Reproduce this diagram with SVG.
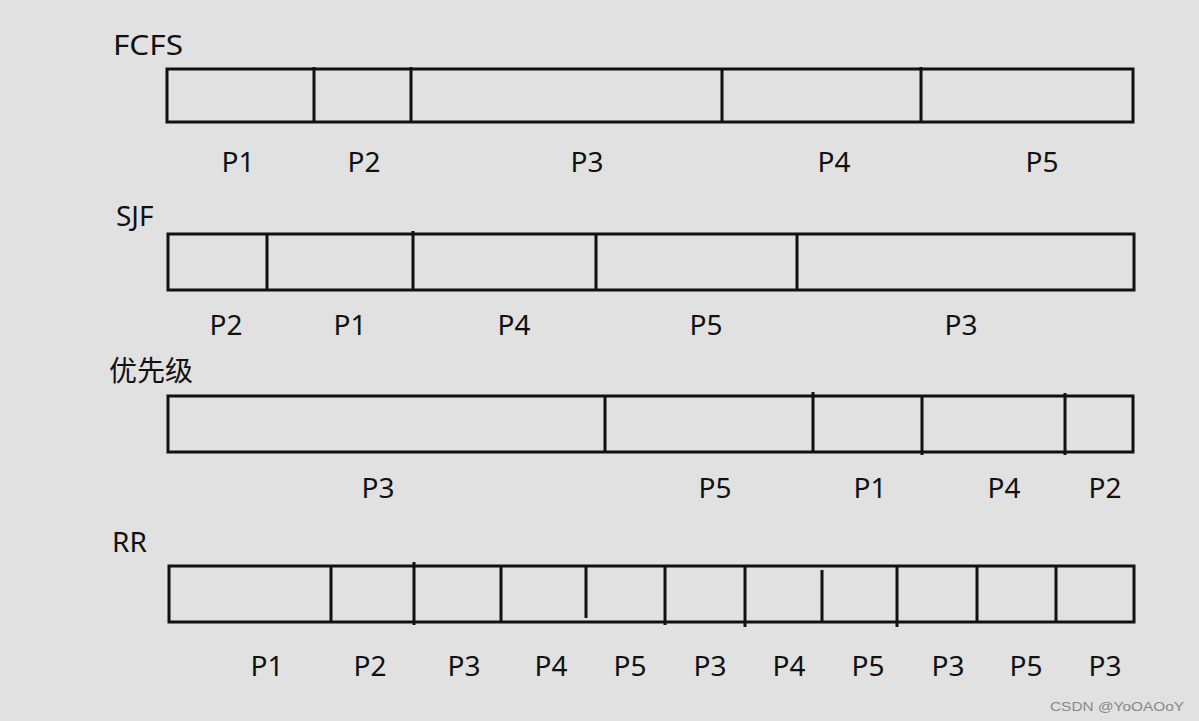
<svg xmlns="http://www.w3.org/2000/svg" width="1199" height="721" viewBox="0 0 1199 721">
<style>
.bar{fill:none;stroke:#111;stroke-width:3}
.div{stroke:#111;stroke-width:3}
.t{font-family:"Noto Sans","Liberation Sans",sans-serif;font-size:28px;fill:#111;text-anchor:middle}
.h{font-family:"Noto Sans","Liberation Sans","Noto Sans CJK SC",sans-serif;font-size:28px;fill:#111}
.w{font-family:"Liberation Sans",sans-serif;font-size:13px;fill:#888}
</style>
<rect width="1199" height="721" fill="#e1e1e1"/>
<g id="fcfs">
<text class="h" x="113" y="55" textLength="70" lengthAdjust="spacingAndGlyphs">FCFS</text>
<rect class="bar" x="167" y="69" width="966" height="53"/>
<g class="divs"><line class="div" x1="314" y1="67" x2="314" y2="122"/><line class="div" x1="411" y1="67" x2="411" y2="122"/><line class="div" x1="722" y1="69" x2="722" y2="122"/><line class="div" x1="921" y1="67" x2="921" y2="122"/></g>
<text class="t" x="238" y="172">P1</text><text class="t" x="364" y="172">P2</text><text class="t" x="587" y="172">P3</text><text class="t" x="834" y="172">P4</text><text class="t" x="1042" y="172">P5</text>
</g>
<g id="sjf">
<text class="h" x="116" y="226">SJF</text>
<rect class="bar" x="168" y="234" width="966" height="56"/>
<line class="div" x1="267" y1="234" x2="267" y2="290"/><line class="div" x1="413" y1="231" x2="413" y2="290"/><line class="div" x1="596" y1="234" x2="596" y2="290"/><line class="div" x1="797" y1="234" x2="797" y2="290"/>
<text class="t" x="226" y="335">P2</text><text class="t" x="350" y="335">P1</text><text class="t" x="514" y="335">P4</text><text class="t" x="706" y="335">P5</text><text class="t" x="961" y="335">P3</text>
</g>
<g id="priority">
<text class="h" x="109" y="381">优先级</text>
<rect class="bar" x="168" y="396" width="965" height="56"/>
<line class="div" x1="605" y1="396" x2="605" y2="452"/><line class="div" x1="813" y1="392" x2="813" y2="452"/><line class="div" x1="922" y1="396" x2="922" y2="455"/><line class="div" x1="1065" y1="393" x2="1065" y2="455"/>
<text class="t" x="378" y="498">P3</text><text class="t" x="715" y="498">P5</text><text class="t" x="870" y="498">P1</text><text class="t" x="1004" y="498">P4</text><text class="t" x="1105" y="498">P2</text>
</g>
<g id="rr">
<text class="h" x="112" y="552">RR</text>
<rect class="bar" x="169" y="566" width="965" height="56"/>
<line class="div" x1="331" y1="566" x2="331" y2="622"/><line class="div" x1="414" y1="562" x2="414" y2="625"/><line class="div" x1="501" y1="566" x2="501" y2="622"/><line class="div" x1="586" y1="566" x2="586" y2="618"/><line class="div" x1="665" y1="566" x2="665" y2="625"/><line class="div" x1="745" y1="566" x2="745" y2="627"/><line class="div" x1="822" y1="570" x2="822" y2="622"/><line class="div" x1="897" y1="566" x2="897" y2="627"/><line class="div" x1="977" y1="566" x2="977" y2="623"/><line class="div" x1="1056" y1="566" x2="1056" y2="623"/>
<text class="t" x="267" y="676">P1</text><text class="t" x="370" y="676">P2</text><text class="t" x="464" y="676">P3</text><text class="t" x="551" y="676">P4</text><text class="t" x="630" y="676">P5</text><text class="t" x="710" y="676">P3</text><text class="t" x="789" y="676">P4</text><text class="t" x="868" y="676">P5</text><text class="t" x="948" y="676">P3</text><text class="t" x="1026" y="676">P5</text><text class="t" x="1105" y="676">P3</text>
</g>
<text class="w" x="1050" y="711" textLength="134" lengthAdjust="spacingAndGlyphs">CSDN @YoOAOoY</text>
</svg>
